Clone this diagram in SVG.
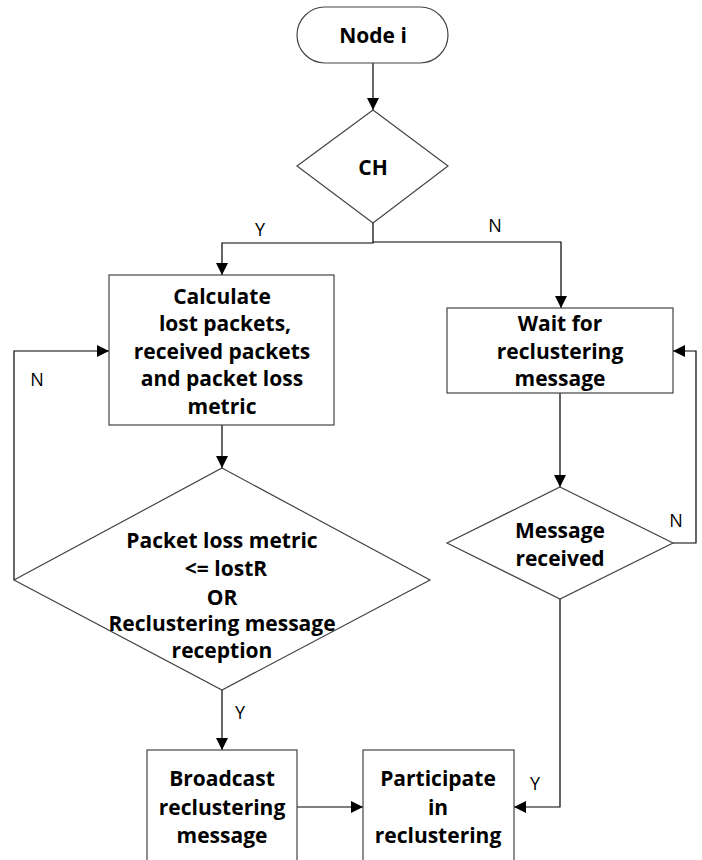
<svg xmlns="http://www.w3.org/2000/svg" width="702" height="860" viewBox="0 0 702 860">
<style>
.shape{fill:#fff;stroke:#444;stroke-width:1.2}
.t{font-family:"Open Sans","Noto Sans","DejaVu Sans",sans-serif;font-weight:bold;font-size:21px;fill:#000;text-anchor:middle;dominant-baseline:central}
.l{font-family:"Open Sans","Noto Sans","DejaVu Sans",sans-serif;font-size:18px;fill:#000;text-anchor:middle;dominant-baseline:central}
.c{fill:none;stroke:#000;stroke-width:1.2}
</style>
<defs>
<marker id="arr" markerUnits="userSpaceOnUse" markerWidth="12" markerHeight="12" viewBox="0 0 12 12" refX="12" refY="6" orient="auto">
<path d="M0,0 L12,6 L0,12 Z" fill="#000"/>
</marker>
</defs>
<rect width="702" height="860" fill="#fff"/>
<g id="connectors">
<path class="c" d="M373,63 V110" marker-end="url(#arr)"/>
<path class="c" d="M373,223 V243 H222 V275" marker-end="url(#arr)"/>
<path class="c" d="M373,242 H561 V308" marker-end="url(#arr)"/>
<path class="c" d="M222,425 V468" marker-end="url(#arr)"/>
<path class="c" d="M14,580 V351 H109" marker-end="url(#arr)"/>
<path class="c" d="M222,690 V750" marker-end="url(#arr)"/>
<path class="c" d="M297,807 H363" marker-end="url(#arr)"/>
<path class="c" d="M560,393 V487" marker-end="url(#arr)"/>
<path class="c" d="M673,543 H696 V351 H673" marker-end="url(#arr)"/>
<path class="c" d="M560,599 V807 H514" marker-end="url(#arr)"/>
<text class="l" x="260" y="229">Y</text>
<text class="l" x="495" y="225">N</text>
<text class="l" x="37" y="379">N</text>
<text class="l" x="240" y="712">Y</text>
<text class="l" x="676" y="520">N</text>
<text class="l" x="535" y="783">Y</text>
</g>
<g id="node-i">
<rect class="shape" x="297" y="7" width="151" height="56" rx="28" ry="28"/>
<text class="t" x="373" y="35">Node i</text>
</g>
<g id="ch">
<polygon class="shape" points="373,110 448,166 373,223 297,166"/>
<text class="t" x="373" y="167">CH</text>
</g>
<g id="calculate">
<rect class="shape" x="109" y="275" width="225" height="150"/>
<text class="t" x="222" y="296">Calculate</text>
<text class="t" x="225" y="323">lost packets,</text>
<text class="t" x="222" y="351">received packets</text>
<text class="t" x="222" y="378">and packet loss</text>
<text class="t" x="222" y="406">metric</text>
</g>
<g id="packet-loss-check">
<polygon class="shape" points="222,468 430,580 222,690 14,580"/>
<text class="t" x="222" y="540">Packet loss metric</text>
<text class="t" x="226" y="568">&lt;= lostR</text>
<text class="t" x="222" y="597">OR</text>
<text class="t" x="222" y="623">Reclustering message</text>
<text class="t" x="222" y="650">reception</text>
</g>
<g id="wait">
<rect class="shape" x="447" y="308" width="226" height="85"/>
<text class="t" x="560" y="323">Wait for</text>
<text class="t" x="560" y="351">reclustering</text>
<text class="t" x="560" y="378">message</text>
</g>
<g id="message-received">
<polygon class="shape" points="560,487 673,543 560,599 447,543"/>
<text class="t" x="560" y="530">Message</text>
<text class="t" x="560" y="558">received</text>
</g>
<g id="broadcast">
<rect class="shape" x="147" y="750" width="150" height="130"/>
<text class="t" x="222" y="778">Broadcast</text>
<text class="t" x="222" y="807">reclustering</text>
<text class="t" x="222" y="835">message</text>
</g>
<g id="participate">
<rect class="shape" x="363" y="750" width="151" height="130"/>
<text class="t" x="438" y="778">Participate</text>
<text class="t" x="438" y="807">in</text>
<text class="t" x="438" y="835">reclustering</text>
</g>
</svg>
